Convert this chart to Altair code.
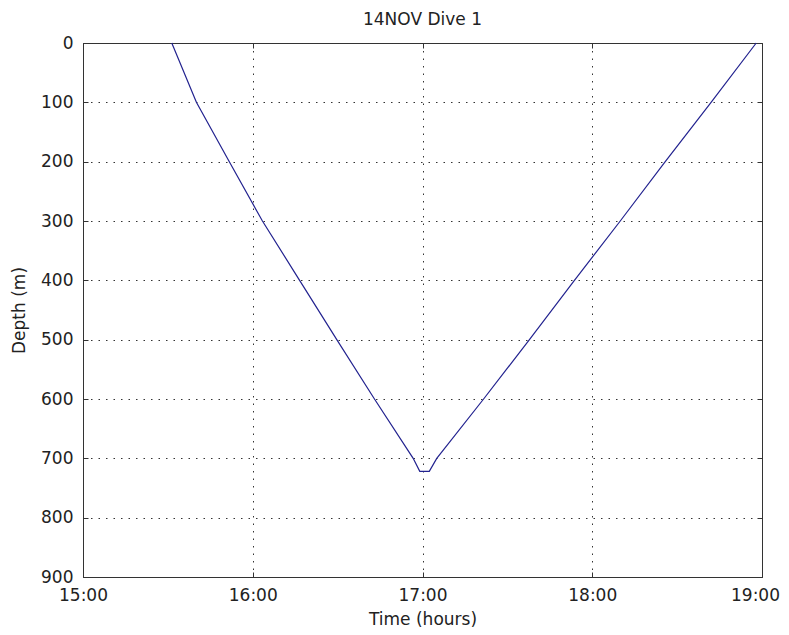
import altair as alt
import pandas as pd

# Dive profile (time in decimal hours, depth in m)
times = [15.523, 15.668, 15.862, 16.057, 16.276, 16.495, 16.717, 16.945,
         16.984, 17.040, 17.084, 17.360, 17.630, 17.895, 18.165, 18.430,
         18.700, 18.966]
depths = [0, 100, 200, 300, 400, 500, 600, 700,
          722, 722, 700, 600, 500, 400, 300, 200,
          100, 0]

x_ticks = [15, 16, 17, 18, 19]
y_ticks = [0, 100, 200, 300, 400, 500, 600, 700, 800, 900]

title_text = "14NOV Dive 1"
x_title = "Time (hours)"
y_title = "Depth (m)"

df = pd.DataFrame({"time": times, "depth": depths})

FONT = "DejaVu Sans"
AXC = "#333333"
TXT = "#222222"
TICK = 5

xscale = alt.Scale(domain=[15, 19], nice=False, zero=False)
yscale = alt.Scale(domain=[0, 900], nice=False, reverse=True)

bottom_axis = alt.Axis(
    values=x_ticks, labelExpr="datum.value + ':00'", title=x_title,
    orient="bottom", domain=False, offset=-TICK, tickSize=TICK,
    tickColor=AXC, labelPadding=10, labelFont=FONT, labelFontSize=17,
    labelColor=TXT, titleFont=FONT, titleFontSize=17,
    titleFontWeight="normal", titleColor=TXT, titlePadding=8,
    grid=True, gridColor="#333333", gridDash=[1.5, 6], gridWidth=1,
    labelFlush=False,
    labelOffset={"expr": "datum.value == 19 ? -7 : 0"},
)
left_axis = alt.Axis(
    values=y_ticks, title=y_title, orient="left", domain=False,
    offset=-TICK, tickSize=TICK, tickColor=AXC, labelPadding=10,
    labelFont=FONT, labelFontSize=17, labelColor=TXT,
    titleFont=FONT, titleFontSize=17, titleFontWeight="normal",
    titleColor=TXT, titlePadding=12,
    grid=True, gridColor="#333333", gridDash=[1.5, 6], gridWidth=1,
    labelFlush=False,
)
top_axis = alt.Axis(
    values=x_ticks, orient="top", domain=False, offset=-TICK,
    tickSize=TICK, tickColor=AXC, labels=False, title=None, grid=False,
)
right_axis = alt.Axis(
    values=y_ticks, orient="right", domain=False, offset=-TICK,
    tickSize=TICK, tickColor=AXC, labels=False, title=None, grid=False,
)

line = alt.Chart(df).mark_line(color="#22228f", strokeWidth=1.2).encode(
    x=alt.X("time:Q", scale=xscale, axis=bottom_axis),
    y=alt.Y("depth:Q", scale=yscale, axis=left_axis),
)

ghost = alt.Chart(df).mark_line(opacity=0).encode(
    x=alt.X("time:Q", scale=xscale, axis=top_axis),
    y=alt.Y("depth:Q", scale=yscale, axis=right_axis),
)

chart = alt.layer(line, ghost).resolve_axis(
    x="independent", y="independent"
).properties(
    width=679, height=534,
    title=alt.TitleParams(title_text, font=FONT, fontSize=17,
                          fontWeight="normal", color=TXT,
                          anchor="middle", offset=5),
    autosize=alt.AutoSizeParams(type="none"),
    padding={"left": 75, "top": 35, "right": 19, "bottom": 50},
).configure_view(stroke="#333333", strokeWidth=1)

chart.save("out.html", embed_options={"renderer": "svg", "actions": False})
